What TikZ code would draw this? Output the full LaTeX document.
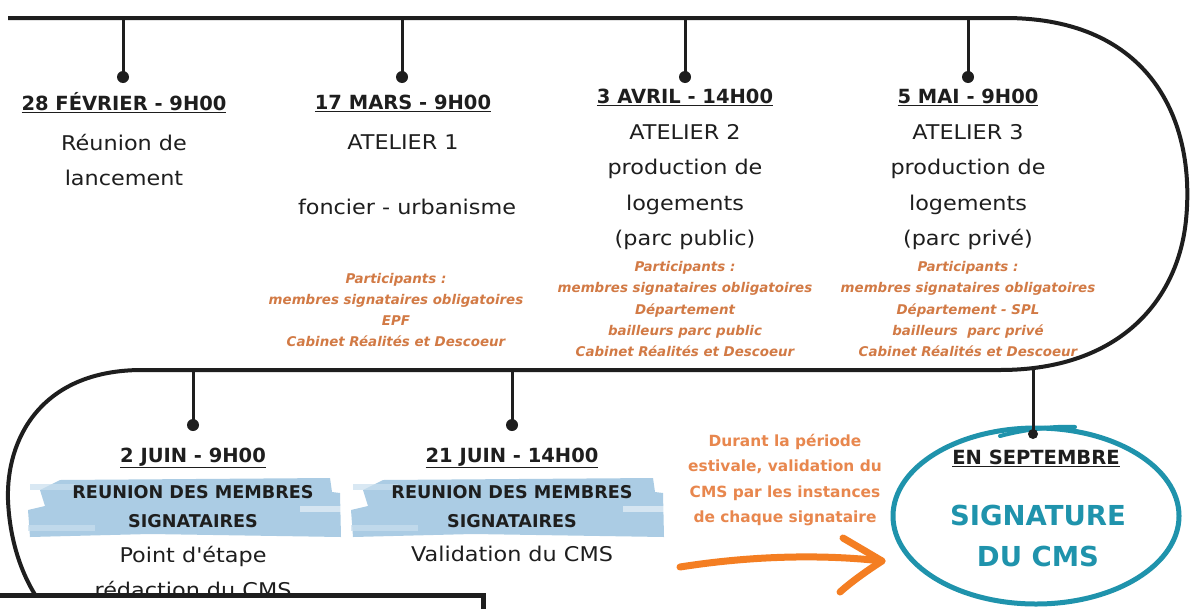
\documentclass[tikz,border=0pt]{standalone}
\usepackage{fontspec}
\setmainfont{DejaVu Sans}[Ligatures=TeXOff]
\newfontfamily\widefont{DejaVu Sans}[Ligatures=TeXOff, FakeStretch=1.1]
\usetikzlibrary{calc,shapes.geometric}
\definecolor{ink}{HTML}{1E1E1E}
\definecolor{partorange}{HTML}{D27A45}
\definecolor{durorange}{HTML}{E8874E}
\definecolor{arroworange}{HTML}{F47E22}
\definecolor{teal}{HTML}{1F93AC}
\definecolor{brush}{HTML}{9DC4E0}
\tikzset{
  tl/.style={line width=4pt, ink},
  stem/.style={line width=3pt, ink},
  dotc/.style={fill=ink, circle, inner sep=0pt, minimum size=12pt},
  datelbl/.style={inner sep=0pt, font=\bfseries\fontsize{19.5}{22}\selectfont, text=ink},
  body/.style={inner sep=0pt, align=center, text=ink, font=\widefont\fontsize{20.3}{35.5}\selectfont},
  part/.style={inner sep=0pt, align=center, text=partorange, font=\bfseries\itshape\fontsize{13.4}{21.3}\selectfont},
  reunion/.style={inner sep=0pt, align=center, text=ink, font=\bfseries\fontsize{17.6}{29}\selectfont},
  dur/.style={inner sep=0pt, align=center, text=durorange, font=\bfseries\fontsize{15.4}{25.2}\selectfont},
  sig/.style={inner sep=0pt, align=center, text=teal, font=\bfseries\fontsize{27.5}{41}\selectfont},
  brushfill/.style={fill=brush, draw=none, opacity=0.85},
}
\newcommand{\ul}[1]{\underline{#1}}
\begin{document}
\begin{tikzpicture}[x=1pt,y=-1pt]
\useasboundingbox (0,0) rectangle (1190,608);
\fill[white] (0,0) rectangle (1190,608);

% ---------- main snake line ----------
\coordinate (tl0) at (8,18);
\coordinate (tl1) at (1005,18);
\coordinate (bl1) at (1000,370);
\coordinate (bl0) at (140,370);
\draw[tl, line join=round] (tl0) -- (tl1)
  .. controls (1150,18) and (1196,120) .. (1186,220)
  .. controls (1178,300) and (1120,370) .. (bl1)
  -- (bl0)
  .. controls (40,371) and (6,440) .. (8,500)
  .. controls (10,550) and (28,590) .. (48,612);

% ---------- top stems ----------
\foreach \n/\x in {a/123,b/402,c/685,d/968}{
  \coordinate (s\n) at (\x,18);
  \node[dotc] (d\n) at (\x,77) {};
  \draw[stem] (s\n) -- (d\n.center);
}
% ---------- bottom stems ----------
\foreach \n/\x in {e/193,f/512}{
  \coordinate (s\n) at (\x,370);
  \node[dotc] (d\n) at (\x,425) {};
  \draw[stem] (s\n) -- (d\n.center);
}

% ---------- top labels ----------
\node[datelbl] (la) at (124,103) {\ul{28 FÉVRIER - 9H00}};
\node[datelbl] (lb) at (403,103) {\ul{17 MARS - 9H00}};
\node[datelbl] (lc) at (685,97) {\ul{3 AVRIL - 14H00}};
\node[datelbl] (ld) at (968,97) {\ul{5 MAI - 9H00}};

\node[body] (ta) at (124,160) {Réunion de\\lancement};
\node[body] (tb1) at (403,142) {ATELIER 1};
\node[body] (tb2) at (407,207) {foncier - urbanisme};
\node[body] (tc) at (685,187) {ATELIER 2\\production de\\logements\\(parc public)};
\node[body] (td) at (968,187) {ATELIER 3\\production de\\logements\\(parc privé)};

\node[part] (pb) at (396,310) {Participants :\\membres signataires obligatoires\\EPF\\Cabinet Réalités et Descoeur};
\node[part] (pc) at (685,309) {Participants :\\membres signataires obligatoires\\Département\\bailleurs parc public\\Cabinet Réalités et Descoeur};
\node[part] (pd) at (968,309) {Participants :\\membres signataires obligatoires\\Département - SPL\\bailleurs \ parc privé\\Cabinet Réalités et Descoeur};

% ---------- brush strokes ----------
\foreach \dx in {0,323}{
  \fill[brushfill] (60+\dx,480) -- (330+\dx,478) -- (332+\dx,492) -- (340+\dx,493) -- (341+\dx,537) -- (150+\dx,534) -- (30+\dx,537) -- (28+\dx,510) -- (45+\dx,506) -- (40+\dx,490) -- cycle;
  \fill[brush!55, opacity=0.7] (30+\dx,484) rectangle (75+\dx,490);
  \fill[brush!55, opacity=0.7] (28+\dx,525) rectangle (95+\dx,531);
  \fill[white, opacity=0.5] (300+\dx,506) rectangle (341+\dx,512);
}

% ---------- bottom labels ----------
\node[datelbl] (le) at (193,458) {\ul{2 JUIN - 9H00}};
\node[datelbl] (lf) at (512,458) {\ul{21 JUIN - 14H00}};
\node[reunion] (re) at (193,507) {REUNION DES MEMBRES\\SIGNATAIRES};
\node[reunion] (rf) at (512,507) {REUNION DES MEMBRES\\SIGNATAIRES};
\node[body] (te) at (193,572) {Point d'étape\\rédaction du CMS};
\node[body] (tf) at (512,554) {Validation du CMS};

\node[dur] (dur) at (785,480) {Durant la période\\estivale, validation du\\CMS par les instances\\de chaque signataire};

% ---------- orange arrow ----------
\coordinate (a0) at (680,567);
\coordinate (a1) at (882,561);
\draw[arroworange, line width=7pt, line cap=round] (a0) .. controls (750,556) and (820,554) .. (a1);
\draw[arroworange, line width=7pt, line cap=round, line join=round] (843,538) .. controls (860,548) and (872,555) .. (a1) .. controls (865,572) and (850,583) .. (840,592);

% ---------- ellipse ----------
\node[draw=teal, line width=5pt, ellipse, minimum width=286pt, minimum height=176pt, inner sep=0pt] (ell) at (1036,516) {};
\draw[teal, line width=4pt, line cap=round] (1000,436) .. controls (1030,428) and (1060,426) .. (1075,427);
\coordinate (sg) at (1033,370);
\node[dotc, minimum size=10pt] (dg) at (1033,434) {};
\draw[stem] (sg) -- (dg.center);
\node[datelbl] (lg) at (1036,458) {\ul{EN SEPTEMBRE}};
\node[sig] (sig) at (1038,536) {SIGNATURE\\DU CMS};

% ---------- black box ----------
\draw[line width=5pt, draw=ink, fill=white] (-5,595) rectangle (483,620);
\end{tikzpicture}
\end{document}
